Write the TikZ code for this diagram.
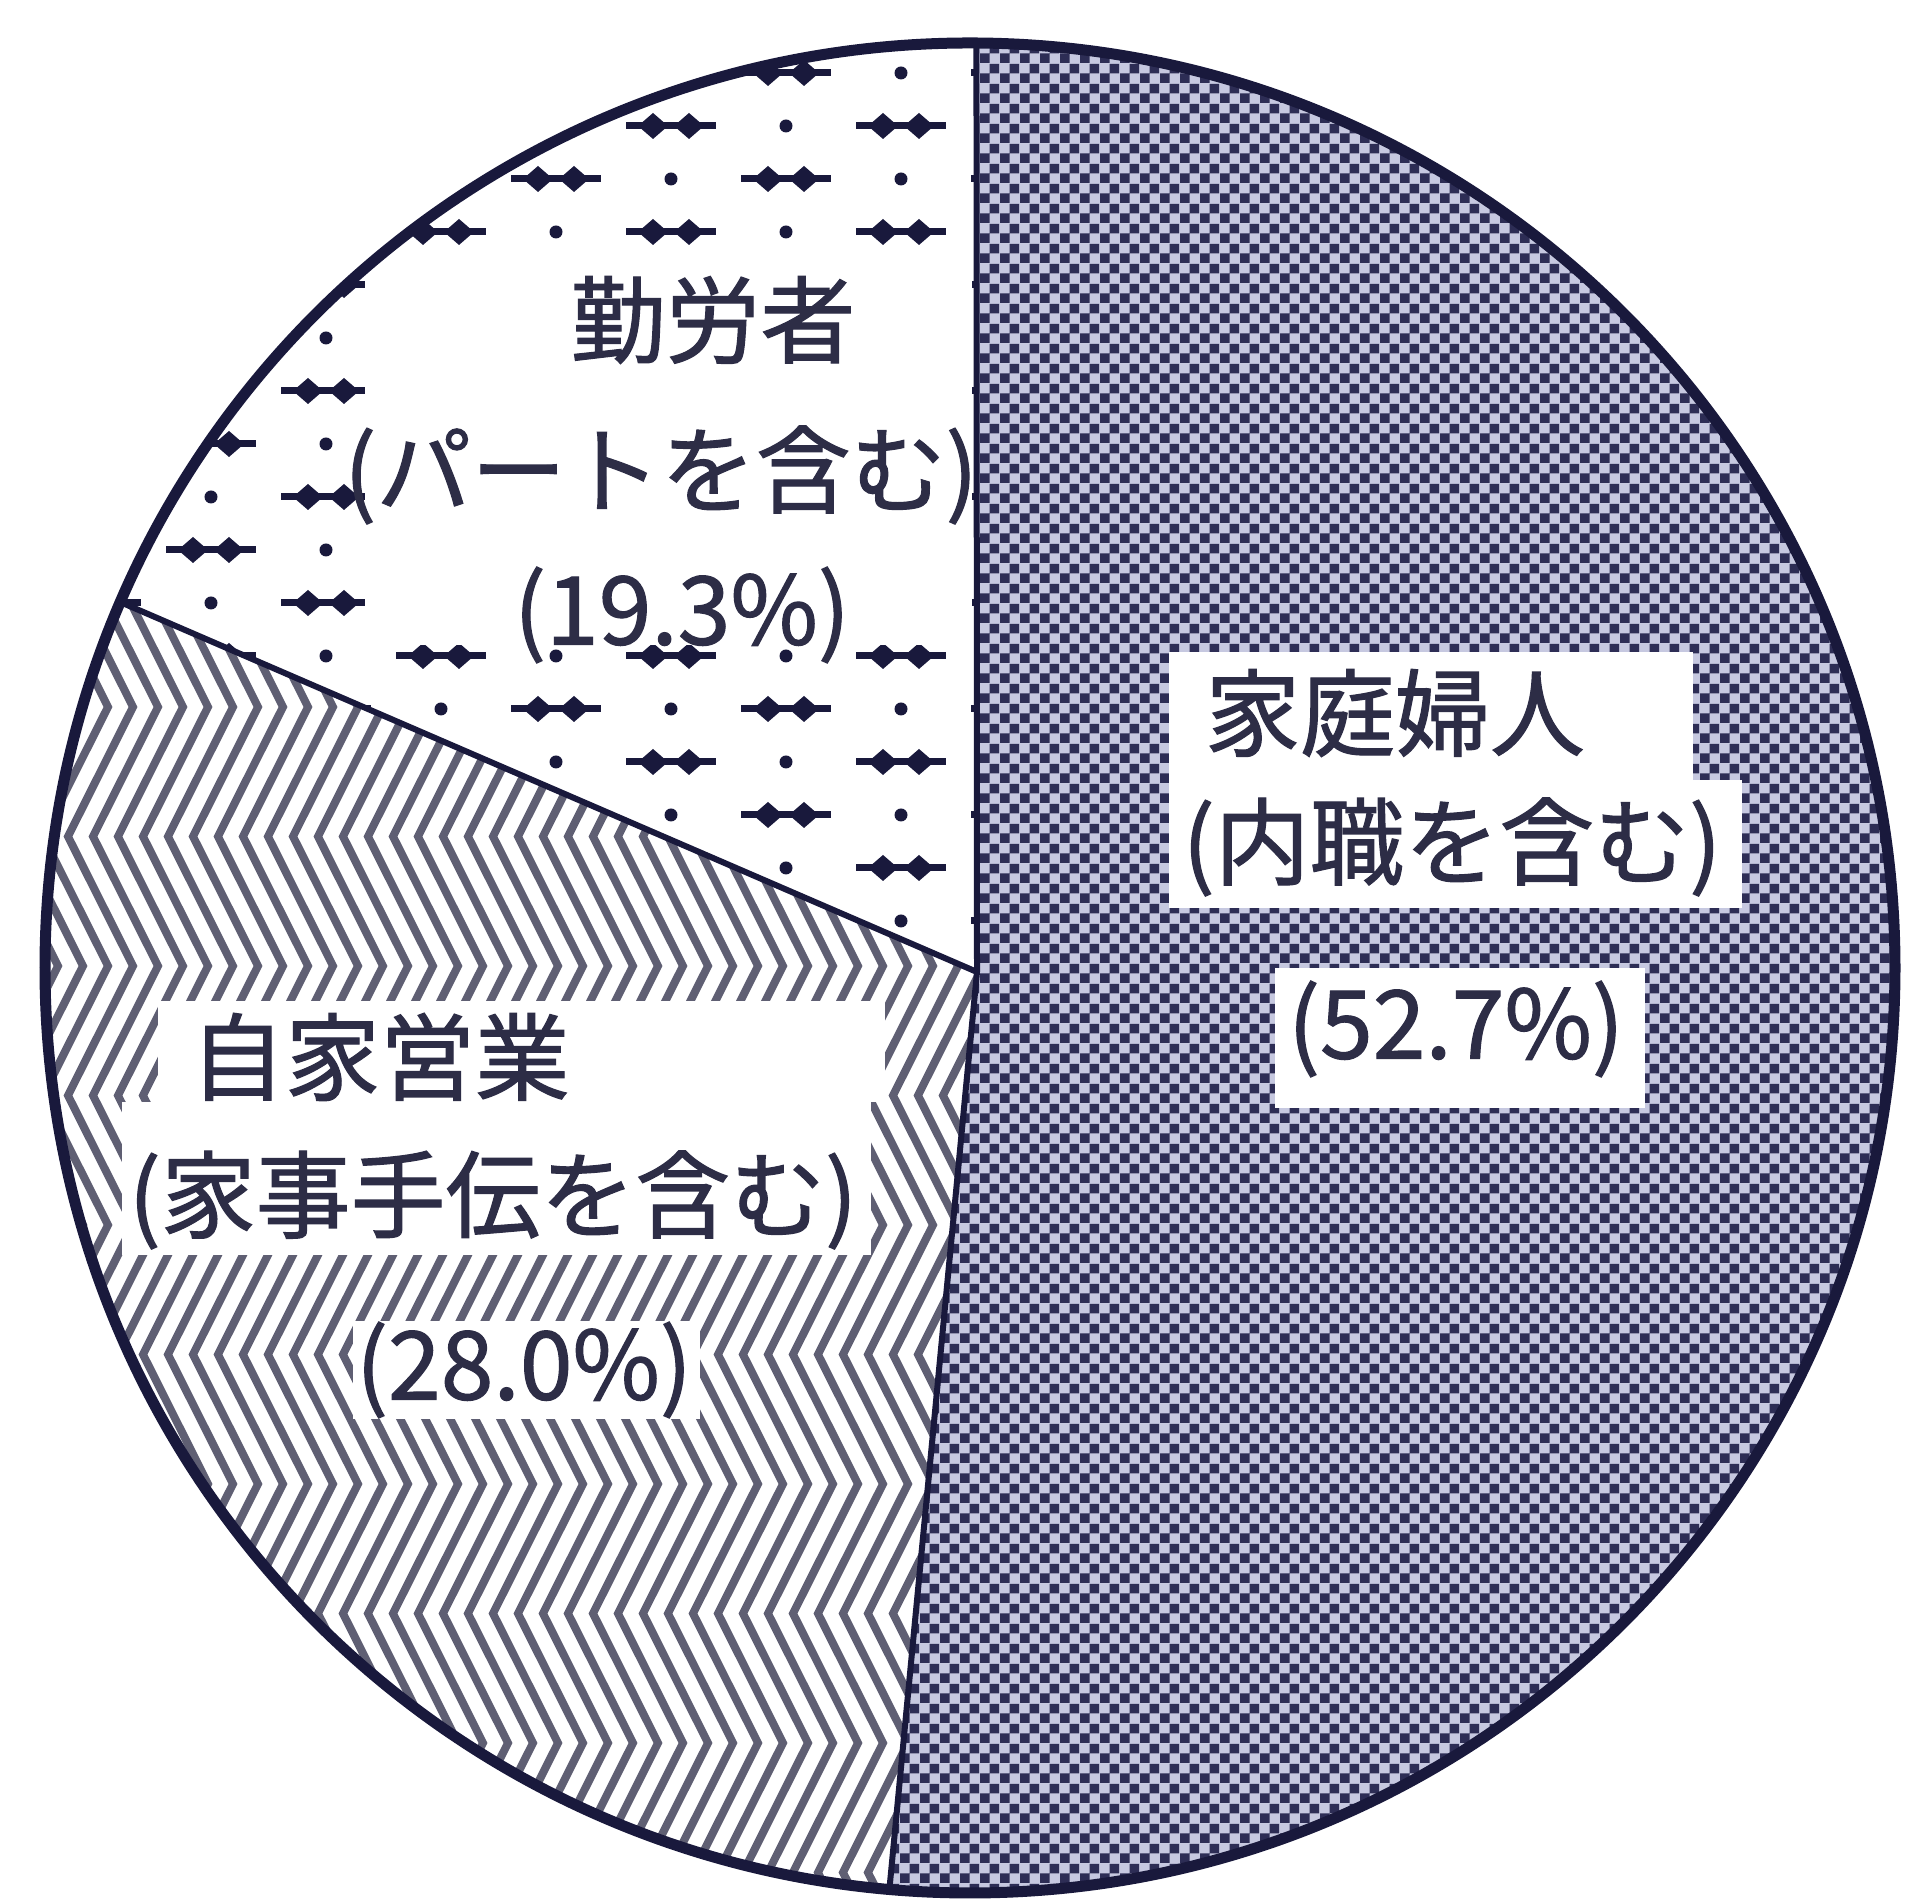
\documentclass[tikz,border=0pt]{standalone}
\usepackage{fontspec}
\setmainfont{Noto Sans CJK JP}
\newfontfamily\labelfont[FakeBold=1.2]{Noto Sans CJK JP}
\usetikzlibrary{calc,patterns}

\pgfdeclarepatternformonly{checkerfine}{\pgfpointorigin}{\pgfqpoint{2mm}{2mm}}{\pgfqpoint{2mm}{2mm}}{%
  \pgfpathrectangle{\pgfpointorigin}{\pgfqpoint{1mm}{1mm}}%
  \pgfpathrectangle{\pgfqpoint{1mm}{1mm}}{\pgfqpoint{1mm}{1mm}}%
  \pgfusepath{fill}}

\begin{document}
\begin{tikzpicture}
\useasboundingbox (0,0) rectangle (19.10,19.03);

\def\radius{9.25}
\def\lineWidth{0.6}
\def\rimWidth{1.1}
\def\textsize{27pt}
\definecolor{inkblue}{RGB}{25,25,60}
\definecolor{checkdark}{RGB}{45,45,85}
\definecolor{checklight}{RGB}{198,200,224}
\definecolor{zigzaggray}{RGB}{95,95,115}
\definecolor{labelink}{RGB}{45,45,70}

\tikzset{
  labeltext/.style={font=\labelfont\fontsize{\textsize}{30pt}\selectfont, text=labelink, inner sep=0pt},
  arrowline/.style={line width=0.7mm, inkblue},
}

\coordinate (center) at (9.70, 9.35);
\coordinate (junction) at (9.77, 9.31);
\coordinate (top-end) at ($(center) + (89.6:\radius)$);
\coordinate (left-end) at ($(center) + (156.7:\radius)$);
\coordinate (bottom-end) at ($(center) + (265:\radius)$);


%FILL

% home: checker
\fill[checklight] (junction) -- (top-end) arc[start angle=89.6, end angle=-95, radius=\radius] -- cycle;
\fill[pattern=checkerfine, pattern color=checkdark] (junction) -- (top-end) arc[start angle=89.6, end angle=-95, radius=\radius] -- cycle;

% self: zigzag
\begin{scope}
\clip (junction) -- (left-end) arc[start angle=156.7, end angle=265, radius=\radius] -- cycle;
\foreach \n in {-8,...,40}
  \draw[line width=0.8mm, zigzaggray, line join=miter] ({0.68+0.25*\n}, 21.025) \foreach \k in {1,...,9} { -- ++(0.65,-1.295) -- ++(-0.65,-1.295) };
\end{scope}

% work: arrows and dots
\begin{scope}
\clip (junction) -- (top-end) arc[start angle=89.6, end angle=156.7, radius=\radius] -- cycle;
\foreach \j in {0,...,18} {
  \pgfmathsetmacro{\rowY}{18.3-0.53*\j}
  \pgfmathsetmacro{\rowShift}{-1.15*mod(\j,2)}
  \foreach \i in {-4,...,1} {
    \pgfmathsetmacro{\groupX}{7.86+\rowShift+2.3*\i}
    \draw[arrowline] (\groupX-0.45,\rowY) -- (\groupX+0.45,\rowY);
    \fill[inkblue] (\groupX-0.33,\rowY) -- ++(0.15,0.13) -- ++(0.15,-0.13) -- ++(-0.15,-0.13) -- cycle;
    \fill[inkblue] (\groupX+0.03,\rowY) -- ++(0.15,0.13) -- ++(0.15,-0.13) -- ++(-0.15,-0.13) -- cycle;
    \fill[inkblue] (\groupX+1.15,\rowY) circle (0.065);
  }
}
\fill[white] (3.65,12.58) rectangle (9.72,16.41);
\end{scope}


%DRAW

\draw[line width=\lineWidth mm, inkblue] (junction) -- (top-end);
\draw[line width=\lineWidth mm, inkblue] (junction) -- (left-end);
\draw[line width=\lineWidth mm, inkblue] (junction) -- (bottom-end);
\draw[line width=\rimWidth mm, inkblue] (center) circle (\radius);

% label boxes
\fill[white] (11.69,11.23) rectangle (16.93,12.51);
\fill[white] (11.69,9.95) rectangle (17.42,11.23);
\fill[white] (12.75,7.95) rectangle (16.45,9.35);
\fill[white] (1.58,8.01) rectangle (8.85,9.02);
\fill[white] (1.22,6.48) rectangle (8.71,8.01);
\fill[white] (3.53,4.84) rectangle (7.00,5.82);

\node[labeltext] (work-name) at (7.13,15.83) {勤労者};
\node[labeltext] (work-note) at (6.61,14.28) {(パートを含む)};
\node[labeltext] (work-share) at (6.82,12.88) {(19.3\%)};

\node[labeltext] (home-name) at (13.95,11.90) {家庭婦人};
\node[labeltext] (home-note) at (14.52,10.56) {(内職を含む)};
\node[labeltext] (home-share) at (14.56,8.74) {(52.7\%)};

\node[labeltext] (self-name) at (3.80,8.46) {自家営業};
\node[labeltext] (self-note) at (4.93,7.03) {(家事手伝を含む)};
\node[labeltext] (self-share) at (5.24,5.33) {(28.0\%)};

\end{tikzpicture}
\end{document}
